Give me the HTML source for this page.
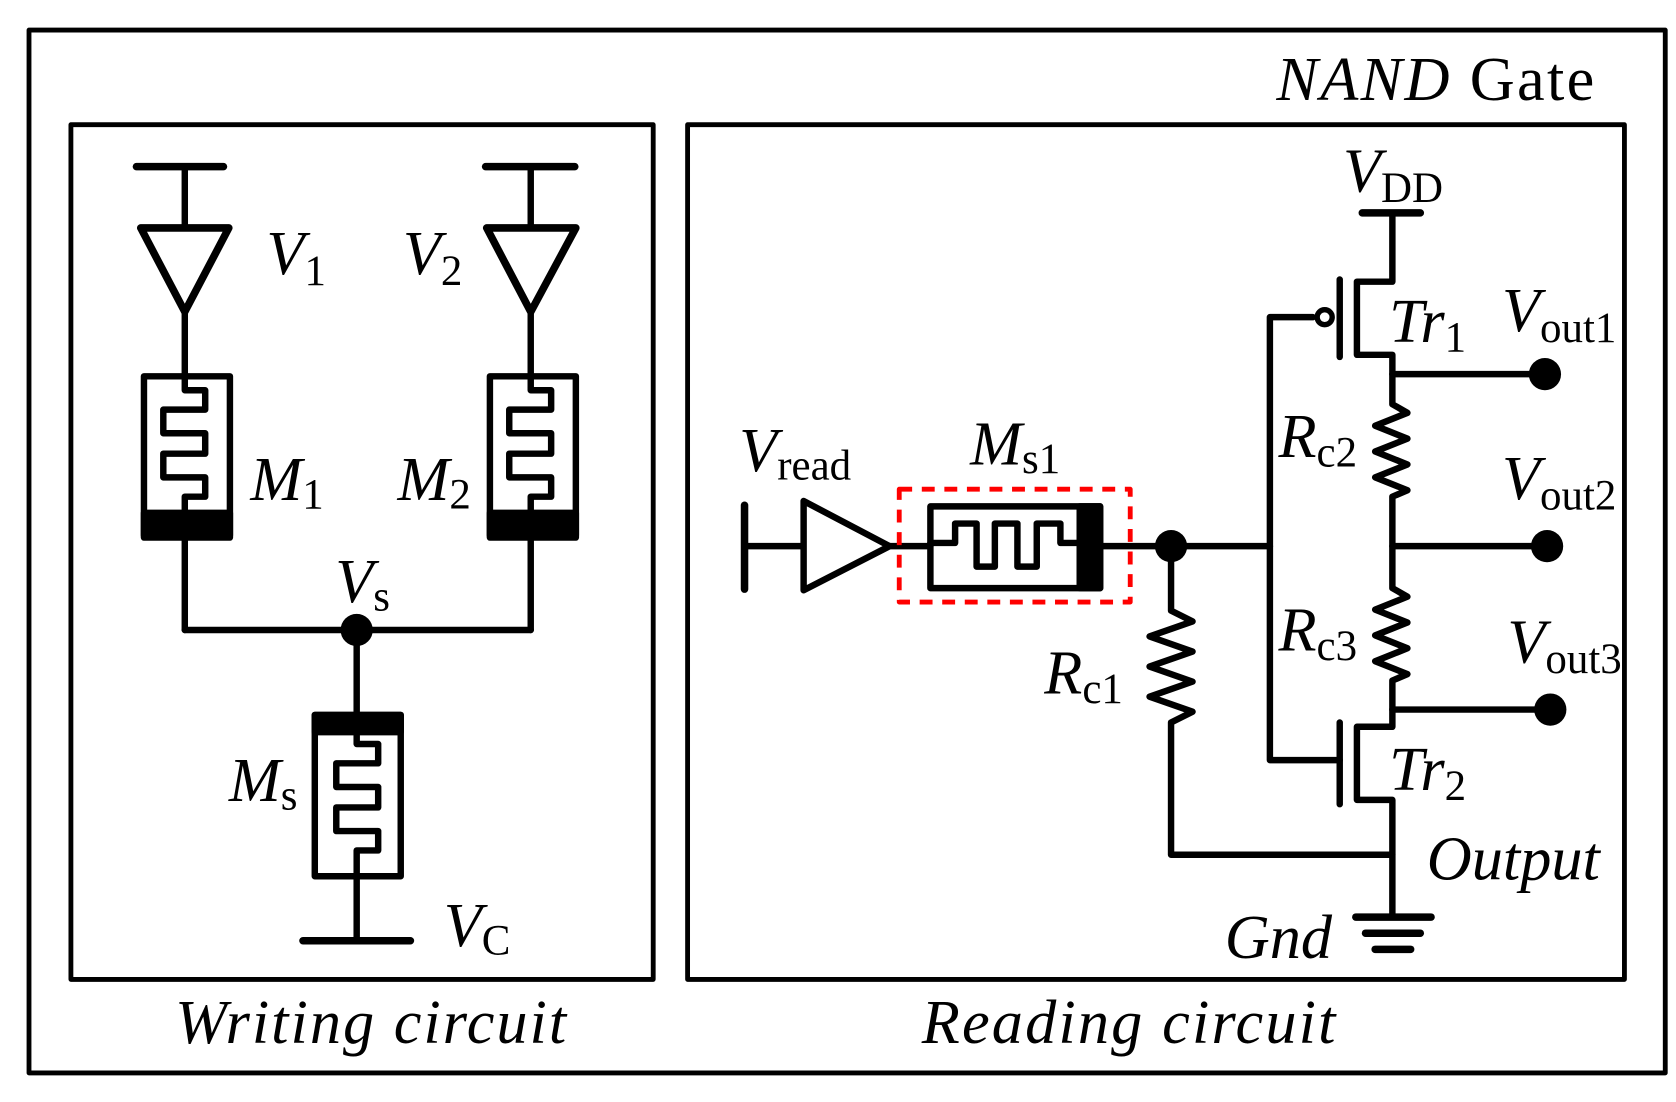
<!DOCTYPE html>
<html><head><meta charset="utf-8"><style>
html,body{margin:0;padding:0;background:#fff;}
svg{display:block}
text{font-family:"Liberation Serif",serif;fill:#000}
.i{font-style:italic;font-size:58px}
.s{font-size:40px;font-style:normal}
</style></head><body>
<svg width="1676" height="1102" viewBox="0 0 1560 1025" preserveAspectRatio="none" xmlns="http://www.w3.org/2000/svg">
<g fill="none" stroke="#000" stroke-width="6" stroke-linecap="round" stroke-linejoin="round">
<rect x="27" y="28" width="1523" height="970" stroke-width="4.5"/>
<rect x="66" y="116" width="542" height="795" stroke-width="4.5"/>
<rect x="640" y="116" width="872" height="795" stroke-width="4.5"/>

<!-- left branch -->
<line x1="127" y1="155" x2="208" y2="155" stroke-width="7"/>
<line x1="172" y1="155" x2="172" y2="212"/>
<polygon points="131,212 213,212 172,290" stroke-width="7"/>
<line x1="172" y1="290" x2="172" y2="350"/>
<rect x="134" y="350" width="80" height="148"/>
<rect x="134" y="477" width="80" height="23" fill="#000"/>
<polyline points="172,350 172,363 191,363 191,381 152,381 152,403 191,403 191,422 152,422 152,444 191,444 191,462 172,462 172,477"/>
<line x1="172" y1="500" x2="172" y2="586"/>
<!-- right branch -->
<line x1="452" y1="155" x2="535" y2="155" stroke-width="7"/>
<line x1="494" y1="155" x2="494" y2="212"/>
<polygon points="453,212 536,212 494,290" stroke-width="7"/>
<line x1="494" y1="290" x2="494" y2="350"/>
<rect x="456" y="350" width="80" height="148"/>
<rect x="456" y="477" width="80" height="23" fill="#000"/>
<polyline points="494,350 494,363 513,363 513,381 474,381 474,403 513,403 513,422 474,422 474,444 513,444 513,462 494,462 494,477"/>
<line x1="494" y1="500" x2="494" y2="586"/>
<line x1="172" y1="586" x2="494" y2="586"/>
<circle cx="332" cy="586" r="15" fill="#000" stroke="none"/>
<line x1="332" y1="586" x2="332" y2="665"/>
<rect x="293" y="665" width="80" height="150"/>
<rect x="293" y="665" width="80" height="16" fill="#000"/>
<polyline points="332,681 332,692 352,692 352,710 313,710 313,732 352,732 352,751 313,751 313,773 352,773 352,791 332,791 332,815"/>
<line x1="332" y1="815" x2="332" y2="875"/>
<line x1="282" y1="875" x2="382" y2="875" stroke-width="7"/>

<!-- reading -->
<line x1="693" y1="470" x2="693" y2="548" stroke-width="7"/>
<line x1="693" y1="508" x2="746" y2="508"/>
<polygon points="748,466 748,549 828,508"/>
<line x1="828" y1="508" x2="866" y2="508"/>
<rect x="866" y="471" width="158" height="76"/>
<rect x="1005" y="471" width="19" height="76" fill="#000"/>
<polyline points="866,505 889,505 889,487 909,487 909,527 926,527 926,487 947,487 947,527 965,527 965,487 987,487 987,505 1005,505"/>
<rect x="837" y="455" width="215" height="105" stroke="#f00" stroke-width="4.5" stroke-dasharray="12,9" stroke-linecap="butt"/>
<line x1="1024" y1="508" x2="1182" y2="508"/>
<circle cx="1090" cy="508" r="15" fill="#000" stroke="none"/>
<polyline points="1090,508 1090,568 1110,578 1070,592 1110,606 1070,620 1110,634 1070,648 1110,662 1090,672 1090,795 1296,795"/>
<polyline points="1222,295 1182,295 1182,707 1247,707"/>
<circle cx="1233" cy="295" r="7" stroke-width="5"/>
<line x1="1247" y1="260" x2="1247" y2="332"/>
<polyline points="1296,200 1296,262 1263,262 1263,330 1296,330 1296,376 1310,384 1280,396 1310,408 1280,420 1310,432 1280,444 1310,456 1296,462 1296,547 1310,555 1280,567 1310,579 1280,591 1310,603 1280,615 1310,627 1296,633 1296,676 1263,676 1263,744 1296,744 1296,853"/>
<line x1="1247" y1="672" x2="1247" y2="748"/>
<line x1="1268" y1="198" x2="1322" y2="198" stroke-width="7"/>
<line x1="1296" y1="348" x2="1438" y2="348"/>
<line x1="1296" y1="508" x2="1440" y2="508"/>
<line x1="1296" y1="660" x2="1443" y2="660"/>
<circle cx="1438" cy="348" r="15" fill="#000" stroke="none"/>
<circle cx="1440" cy="508" r="15" fill="#000" stroke="none"/>
<circle cx="1443" cy="660" r="15" fill="#000" stroke="none"/>
<line x1="1262" y1="853" x2="1332" y2="853" stroke-width="7"/>
<line x1="1271" y1="868" x2="1322" y2="868" stroke-width="7"/>
<line x1="1280" y1="883" x2="1313" y2="883" stroke-width="7"/>
</g>

<text x="1188" y="93" class="i" textLength="296" lengthAdjust="spacing">NAND <tspan font-style="normal">Gate</tspan></text>
<text x="163" y="970" class="i" textLength="364" lengthAdjust="spacing">Writing circuit</text>
<text x="858" y="970" class="i" textLength="385" lengthAdjust="spacing">Reading circuit</text>
<text x="248" y="255" class="i">V<tspan class="s" dy="10">1</tspan></text>
<text x="375" y="255" class="i">V<tspan class="s" dy="10">2</tspan></text>
<text x="233" y="465" class="i">M<tspan class="s" dy="8">1</tspan></text>
<text x="370" y="465" class="i">M<tspan class="s" dy="8">2</tspan></text>
<text x="312" y="560" class="i">V<tspan class="s" dy="8">s</tspan></text>
<text x="213" y="745" class="i">M<tspan class="s" dy="8">s</tspan></text>
<text x="413" y="880" class="i">V<tspan class="s" dy="8">C</tspan></text>
<text x="688" y="438" class="i">V<tspan class="s" dy="8">read</tspan></text>
<text x="903" y="432" class="i">M<tspan class="s" dy="8">s1</tspan></text>
<text x="1250" y="178" class="i">V<tspan class="s" dy="10">DD</tspan></text>
<text x="1293" y="318" class="i">Tr<tspan class="s" dy="9">1</tspan></text>
<text x="1398" y="308" class="i">V<tspan class="s" dy="10">out1</tspan></text>
<text x="1190" y="425" class="i">R<tspan class="s" dy="9">c2</tspan></text>
<text x="1398" y="464" class="i">V<tspan class="s" dy="10">out2</tspan></text>
<text x="1190" y="605" class="i">R<tspan class="s" dy="9">c3</tspan></text>
<text x="1403" y="616" class="i">V<tspan class="s" dy="10">out3</tspan></text>
<text x="972" y="645" class="i">R<tspan class="s" dy="9">c1</tspan></text>
<text x="1293" y="735" class="i">Tr<tspan class="s" dy="9">2</tspan></text>
<text x="1328" y="818" class="i">Output</text>
<text x="1140" y="891" class="i">Gnd</text>
</svg>
</body></html>
